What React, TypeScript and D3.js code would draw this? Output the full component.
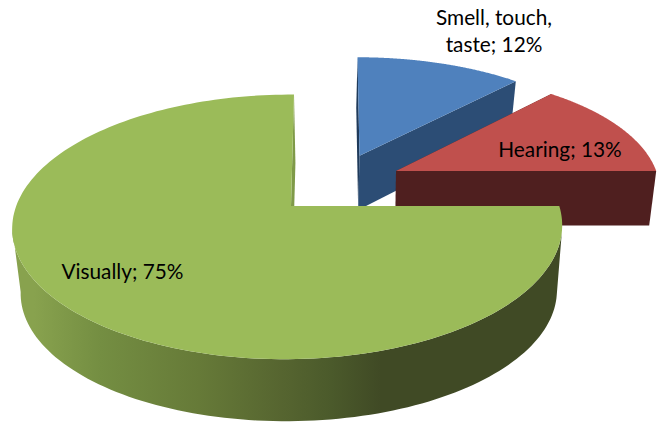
import React from "react";
import * as d3 from "d3";

const categories = ["Visually", "Smell, touch, taste", "Hearing"];
const shares = [75, 12, 13];
const labelLines = [["Visually; 75%"], ["Smell, touch,", "taste; 12%"], ["Hearing; 13%"]];

const WIDTH = 666;
const HEIGHT = 430;
const TOP = ["#9bbb59", "#4f81bd", "#c0504d"];
const WALL = ["url(#greenWall)", "#2c4d75", "#4f1f1f"];
const RADIAL = ["#7f9a48", "#1f3a5a", "#4f1f1f"];

// geometry of each exploded slice: apex, radii, perspective, wall drop
const GEOM = [
  { ax: 291, ay: 206, rx: 271.5, ry: 129, p: 0.158, q: 0.012, shear: 3, dxv: 1.5, y0: 359, y1: 421, k: 0.976 },
  { ax: 359.5, ay: 155.7, rx: 257, ry: 114, p: 0.158, q: 0, shear: -2, dxv: -1.3, y0: 170, y1: 225, k: 1.043 },
  { ax: 396, ay: 171, rx: 242, ry: 112.7, p: 0.158, q: -0.07, shear: 0, dxv: -0.5, y0: 171, y1: 225.5, k: 1.0 },
];
const LABEL_POS = [
  { x: 122.5, y: 279 },
  { x: 494, y: 25 },
  { x: 560, y: 157 },
];
const LINE_STEP = 27;
const WALL_FROM = (Math.PI * 100) / 180;
const WALL_TO = (Math.PI * 262) / 180;

type Pt = [number, number];
type G = (typeof GEOM)[number];

const project = (g: G, theta: number): Pt => {
  const u = Math.sin(theta);
  const v = Math.cos(theta);
  const w = 1 + g.p * v + g.q * u;
  return [g.ax + (g.rx * u) / w + g.shear * v, g.ay - (g.ry * v) / w];
};
const drop = (g: G, pt: Pt): Pt => [
  g.ax + 0.975 * (pt[0] - g.ax) + g.dxv,
  g.y1 + g.k * (pt[1] - g.y0),
];

const line = d3.line<Pt>().x((d) => d[0]).y((d) => d[1]);
const poly = (pts: Pt[]) => line(pts) + "Z";

const pie = d3
  .pie<number>()
  .sort(null)
  .startAngle(Math.PI / 2)
  .endAngle(Math.PI * 2.5);

export default function App() {
  const arcs = pie(shares);
  const slices = arcs.map((a, i) => {
    const g = GEOM[i];
    const n = 180;
    const thetas = d3.range(n + 1).map((k) => a.startAngle + ((a.endAngle - a.startAngle) * k) / n);
    const rim = thetas.map((t) => project(g, t));
    const apex: Pt = [g.ax, g.ay];
    const first = rim[0];
    const last = rim[n];
    return { g, rim, apex, first, last, thetas };
  });

  const paint = [1, 2, 0];

  return (
    <svg
      width={WIDTH}
      height={HEIGHT}
      viewBox={`0 0 ${WIDTH} ${HEIGHT}`}
      style={{ position: "absolute", left: 0, top: 0, display: "block", background: "#fff" }}
    >
      <defs>
        <linearGradient id="greenWall" gradientUnits="userSpaceOnUse" x1={12} x2={562} y1={0} y2={0}>
          <stop offset="0.04" stopColor="#88a24e" />
          <stop offset="0.16" stopColor="#748e42" />
          <stop offset="0.34" stopColor="#667a38" />
          <stop offset="0.49" stopColor="#566530" />
          <stop offset="0.58" stopColor="#4b5a2b" />
          <stop offset="0.67" stopColor="#404a25" />
          <stop offset="1" stopColor="#404a25" />
        </linearGradient>
      </defs>

      {paint.map((i) => {
        const s = slices[i];
        const g = s.g;
        const apexB = drop(g, s.apex);
        if (i === 0) {
          const wallRim = s.rim.filter((_, k) => s.thetas[k] >= WALL_FROM && s.thetas[k] <= WALL_TO);
          return (
            <g key={i}>
              <path d={poly([s.last, s.apex, apexB, drop(g, s.last)])} fill={RADIAL[i]} />
              <path
                d={poly([...wallRim, ...wallRim.map((p) => drop(g, p)).reverse()])}
                fill={WALL[i]}
              />
              <path d={poly([s.apex, ...s.rim])} fill={TOP[i]} />
            </g>
          );
        }
        return (
          <g key={i}>
            <path d={poly([s.first, s.apex, apexB, drop(g, s.first)])} fill={RADIAL[i]} />
            <path d={poly([s.last, s.apex, apexB, drop(g, s.last)])} fill={WALL[i]} />
            <path d={poly([s.apex, ...s.rim])} fill={TOP[i]} />
          </g>
        );
      })}

      {categories.map((c, i) => (
        <text
          key={c}
          textAnchor="middle"
          fontFamily="Lato, Carlito, sans-serif"
          fontSize={20.8}
          fill="#000"
        >
          {labelLines[i].map((l, k) => (
            <tspan key={k} x={LABEL_POS[i].x} y={LABEL_POS[i].y + k * LINE_STEP}>
              {l}
            </tspan>
          ))}
        </text>
      ))}
    </svg>
  );
}
